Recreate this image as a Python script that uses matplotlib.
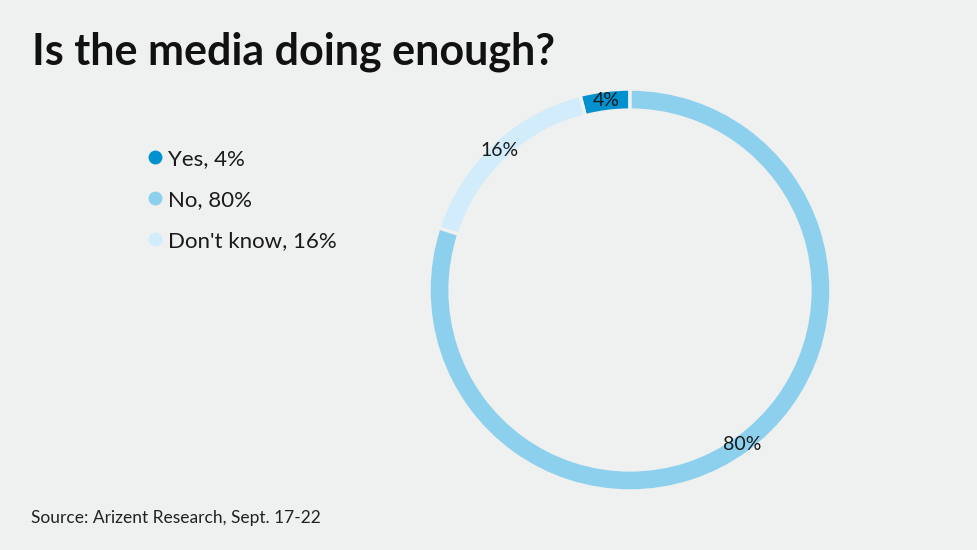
import matplotlib.pyplot as plt
from matplotlib.lines import Line2D

# Survey answers
answers = ["Yes", "Don't know", "No"]
shares = [4, 16, 80]
colors = ["#0291cf", "#d2ecfb", "#8cd0ee"]
legend_order = ["Yes", "No", "Don't know"]

bg = "#eff0f0"
plt.rcParams['font.family'] = ['Lato', 'DejaVu Sans']

fig = plt.figure(figsize=(9.78, 5.5), dpi=100, facecolor=bg)

# Donut: centre at (630, 290) px, outer radius ~201 px
W, H = 978, 550
r_px = 201
ax = fig.add_axes([(630 - r_px) / W, (H - 290 - r_px) / H, 2 * r_px / W, 2 * r_px / H])
ax.set_facecolor(bg)
wedges, texts = ax.pie(shares, colors=colors, startangle=90, counterclock=True,
                       radius=1, labels=[f"{s}%" for s in shares], labeldistance=0.95,
                       wedgeprops=dict(width=0.105, edgecolor=bg, linewidth=2.5),
                       textprops=dict(fontsize=14, color="#1a1a1a", ha='center', va='center'))
ax.set_xlim(-1, 1)
ax.set_ylim(-1, 1)
ax.axis('off')

# Legend
handles = []
for name in legend_order:
    i = answers.index(name)
    handles.append(Line2D([], [], marker='o', linestyle='none', markersize=10,
                          markerfacecolor=colors[i], markeredgecolor='none',
                          label=f"{name}, {shares[i]}%"))
fig.legend(handles=handles, loc='upper left', bbox_to_anchor=(135 / W, 1 - 140 / H),
           frameon=False, fontsize=16, handletextpad=0.1, labelspacing=0.95,
           handlelength=1.0, borderaxespad=0, labelcolor="#1a1a1a")

fig.text(32 / W, 1 - 52 / H, "Is the media doing enough?", fontsize=31, fontweight='bold',
         color="#111111", va='center', ha='left')
fig.text(31 / W, 1 - 518 / H, "Source: Arizent Research, Sept. 17-22", fontsize=12.5,
         color="#222222", va='center', ha='left')

fig.savefig("out.png", dpi=100, facecolor=bg)
